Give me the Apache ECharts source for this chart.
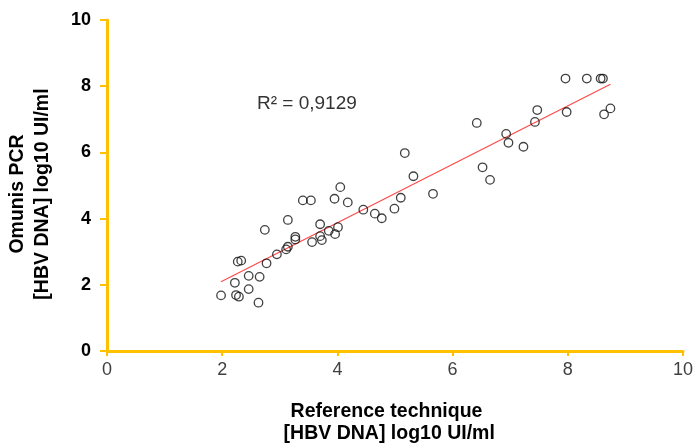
<!DOCTYPE html>
<html>
<head>
<meta charset="utf-8">
<script src="https://cdn.jsdelivr.net/npm/echarts@6/dist/echarts.min.js"></script>
<style>html,body{margin:0;padding:0;background:#fff;}#c{width:694px;height:443px;}</style>
</head>
<body>
<div id="c"></div>
<script>
const xTicks = [0, 2, 4, 6, 8, 10];
const yTicks = [0, 2, 4, 6, 8, 10];
const refX = [1.98,2.22,2.24,2.29,2.27,2.33,2.46,2.46,2.63,2.65,2.74,2.77,2.95,3.11,3.14,3.14,3.27,3.27,3.40,3.54,3.56,3.70,3.70,3.73,3.85,3.96,4.01,3.95,4.05,4.18,4.45,4.65,4.77,4.99,5.10,5.17,5.32,5.66,6.42,6.52,6.65,6.93,6.97,7.23,7.47,7.43,7.96,7.98,8.33,8.57,8.61,8.63,8.74];
const pcrY = [1.68,2.06,1.69,1.64,2.70,2.73,2.27,1.87,1.46,2.24,3.66,2.65,2.92,3.07,3.96,3.15,3.45,3.37,4.55,4.55,3.29,3.83,3.47,3.35,3.63,3.53,3.74,4.60,4.95,4.49,4.27,4.15,4.01,4.30,4.63,5.98,5.28,4.75,6.89,5.55,5.17,6.56,6.29,6.17,7.28,6.92,8.23,7.22,8.23,8.23,8.23,7.15,7.33];
const trendX = [1.98, 8.74];
const trendY = [2.09, 8.06];
const r2Text = 'R² = 0,9129';

const points = refX.map((x, i) => [x, pcrY[i]]);
const trend = trendX.map((x, i) => [x, trendY[i]]);
const font = 'Liberation Sans, Arial, sans-serif';
const axisCol = '#FFC000';

const chart = echarts.init(document.getElementById('c'), null, {renderer: 'canvas'});
chart.setOption({
  animation: false,
  backgroundColor: '#fff',
  grid: {left: 107, right: 11, top: 20, bottom: 92, containLabel: false, outerBoundsMode: 'none'},
  xAxis: {
    type: 'value', min: xTicks[0], max: xTicks[xTicks.length - 1], interval: 2,
    axisLine: {show: true, onZero: false, lineStyle: {color: axisCol, width: 3}},
    axisTick: {show: true, length: 5, lineStyle: {color: axisCol, width: 2}},
    splitLine: {show: false},
    axisLabel: {color: '#404040', fontSize: 18, fontFamily: font, margin: 10},
    name: 'Reference technique\n [HBV DNA] log10 UI/ml',
    nameLocation: 'middle', nameGap: 50,
    nameTextStyle: {color: '#000', fontWeight: 'bold', fontSize: 19.5, fontFamily: font, lineHeight: 22, padding: [0, 17, 0, 0]}
  },
  yAxis: {
    type: 'value', min: yTicks[0], max: yTicks[yTicks.length - 1], interval: 2,
    axisLine: {show: true, onZero: false, lineStyle: {color: axisCol, width: 3}},
    axisTick: {show: true, length: 7, lineStyle: {color: axisCol, width: 2}},
    splitLine: {show: false},
    axisLabel: {color: '#000', fontSize: 18, fontWeight: 'bold', fontFamily: font, margin: 16},
    name: 'Omunis PCR\n[HBV DNA] log10 UI/ml',
    nameLocation: 'middle', nameGap: 52,
    nameTextStyle: {color: '#000', fontWeight: 'bold', fontSize: 19.5, fontFamily: font, lineHeight: 25, padding: [0, 17, 0, 0]}
  },
  graphic: [{
    type: 'text', left: 257, top: 94,
    style: {text: r2Text, fill: '#333', font: '19px ' + font}
  }],
  series: [
    {
      type: 'line', data: trend, symbol: 'none', silent: true,
      lineStyle: {color: '#ff4a4a', width: 1.2}, z: 1
    },
    {
      type: 'scatter', data: points, symbol: 'circle', symbolSize: 8.5,
      itemStyle: {color: 'rgba(255,255,255,0)', borderColor: '#111', borderWidth: 1.3}, z: 2
    }
  ]
});
</script>
</body>
</html>
